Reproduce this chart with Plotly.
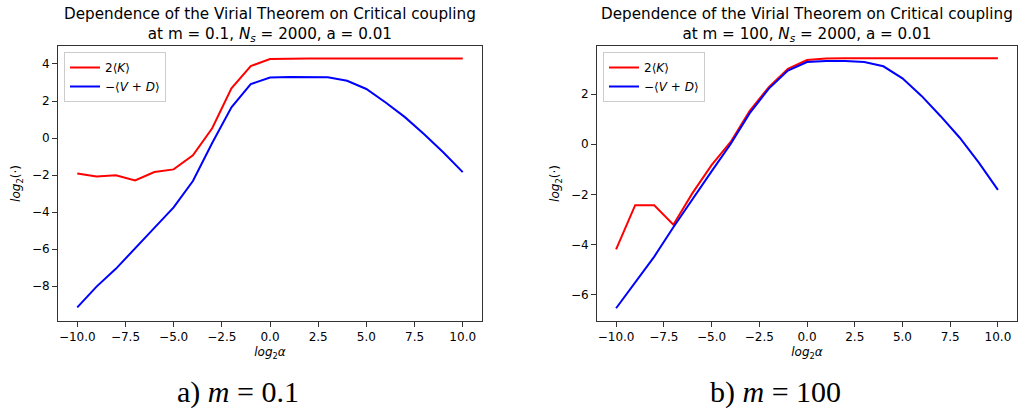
import plotly.graph_objects as go

# ---------------- data ----------------
log2_alpha = [-10, -9, -8, -7, -6, -5, -4, -3, -2, -1, 0, 1, 2, 3, 4, 5, 6, 7, 8, 9, 10]

# m = 0.1
k2_m01 = [-1.91, -2.08, -2.01, -2.29, -1.83, -1.69, -0.93, 0.53, 2.68, 3.89, 4.27,
          4.30, 4.30, 4.30, 4.30, 4.30, 4.30, 4.30, 4.30, 4.30, 4.30]
vd_m01 = [-9.14, -8.02, -7.06, -5.93, -4.85, -3.74, -2.32, -0.27, 1.66, 2.91, 3.27,
          3.30, 3.30, 3.28, 3.09, 2.65, 1.92, 1.13, 0.20, -0.78, -1.84]

# m = 100
k2_m100 = [-4.19, -2.43, -2.43, -3.21, -1.95, -0.83, 0.09, 1.33, 2.28, 3.01, 3.36,
           3.42, 3.43, 3.43, 3.43, 3.43, 3.43, 3.43, 3.43, 3.43, 3.43]
vd_m100 = [-6.54, -5.52, -4.48, -3.31, -2.17, -1.08, 0.01, 1.24, 2.22, 2.94, 3.28,
           3.32, 3.32, 3.28, 3.11, 2.63, 1.93, 1.12, 0.26, -0.73, -1.82]

series_names = ["2⟨<i>K</i>⟩", "−⟨<i>V</i> + <i>D</i>⟩"]
series_colors = ["#ff0000", "#0000ff"]
m_values = ["0.1", "100"]
captions = ["a) <i>m</i> = 0.1", "b) <i>m</i> = 100"]

FONT = "DejaVu Sans"
W, H = 1018, 412

fig = go.Figure()

panels = [
    (k2_m01, vd_m01, "x", "y", "legend"),
    (k2_m100, vd_m100, "x2", "y2", "legend2"),
]
for (k2, vd, xa, ya, lg) in panels:
    for vals, name, col in zip([k2, vd], series_names, series_colors):
        fig.add_trace(go.Scatter(
            x=log2_alpha, y=vals, mode="lines", name=name,
            line=dict(color=col, width=2), xaxis=xa, yaxis=ya, legend=lg,
        ))

# geometry (pixels)
L1, R1 = 58, 482
L2, R2 = 597, 1017
TOP, BOT = 46, 321

def px_x(p):
    return p / W

def px_y(p):
    return 1 - p / H

axis_common = dict(
    showline=True, mirror=True, linecolor="#333333", linewidth=1,
    ticks="outside", ticklen=5, tickcolor="#333333", tickwidth=1,
    showgrid=False, zeroline=False,
    tickfont=dict(family=FONT, size=12, color="black"),
)

fig.update_layout(
    width=W, height=H,
    margin=dict(l=0, r=0, t=0, b=0),
    paper_bgcolor="white", plot_bgcolor="white",
    font=dict(family=FONT, color="black"),
    xaxis=dict(domain=[px_x(L1), px_x(R1)], range=[-11, 11], dtick=2.5, tick0=0,
               tickformat=".1f", anchor="y",
               title=dict(text="<i>log</i><sub>2</sub><i>α</i>", font=dict(size=12), standoff=4),
               **axis_common),
    yaxis=dict(domain=[px_y(BOT), px_y(TOP)], range=[-9.875, 4.97], dtick=2, tick0=0,
               anchor="x",
               title=dict(text="<i>log</i><sub>2</sub>(·)", font=dict(size=12), standoff=8),
               **axis_common),
    xaxis2=dict(domain=[px_x(L2), px_x(R2)], range=[-11, 11], dtick=2.5, tick0=0,
                tickformat=".1f", anchor="y2",
                title=dict(text="<i>log</i><sub>2</sub><i>α</i>", font=dict(size=12), standoff=4),
                **axis_common),
    yaxis2=dict(domain=[px_y(BOT), px_y(TOP)], range=[-7.05, 3.92], dtick=2, tick0=0,
                anchor="x2",
                title=dict(text="<i>log</i><sub>2</sub>(·)", font=dict(size=12), standoff=8),
                **axis_common),
    legend=dict(x=px_x(64), y=px_y(52), xanchor="left", yanchor="top",
                bordercolor="#cccccc", borderwidth=1, bgcolor="white",
                font=dict(family=FONT, size=12, color="black"), tracegroupgap=0),
    legend2=dict(x=px_x(603), y=px_y(52), xanchor="left", yanchor="top",
                 bordercolor="#cccccc", borderwidth=1, bgcolor="white",
                 font=dict(family=FONT, size=12, color="black"), tracegroupgap=0),
    showlegend=True,
)

annotations = []
for (L, R), m, cap in zip([(L1, R1), (L2, R2)], m_values, captions):
    cx = px_x((L + R) / 2)
    annotations.append(dict(
        x=cx, y=px_y(3), xref="paper", yref="paper", xanchor="center", yanchor="top",
        showarrow=False, align="center",
        text=("Dependence of the Virial Theorem on Critical coupling<br>"
              f"at m = {m}, <i>N</i><sub><i>s</i></sub> = 2000, a = 0.01"),
        font=dict(family=FONT, size=15.2, color="black"),
    ))
    annotations.append(dict(
        x=cx - px_x(32), y=px_y(411), xref="paper", yref="paper", xanchor="center",
        yanchor="bottom", showarrow=False, text=cap,
        font=dict(family="Liberation Serif", size=30, color="black"),
    ))
fig.update_layout(annotations=annotations)

fig.write_html(
    "out.html",
    config={"displayModeBar": False},
    post_script="document.body.style.margin='0';document.body.style.overflow='hidden';",
)
